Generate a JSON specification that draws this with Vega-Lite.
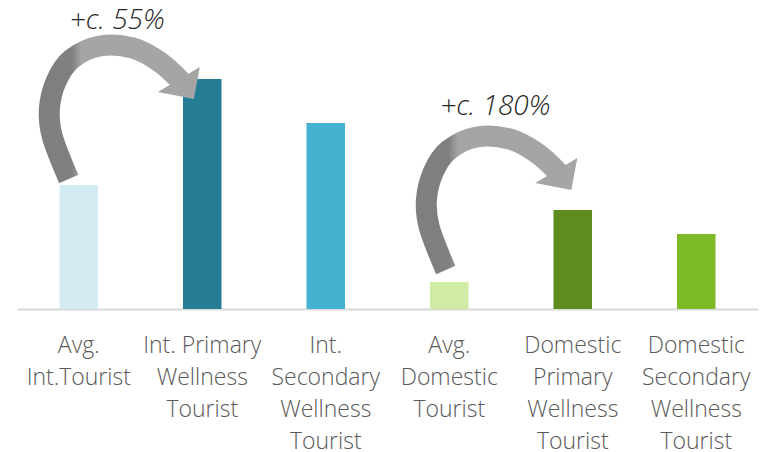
{
  "$schema": "https://vega.github.io/schema/vega-lite/v6.json",
  "width": 741,
  "height": 309,
  "autosize": {"type": "none"},
  "padding": {"left": 17, "top": 0, "right": 7, "bottom": 143},
  "background": "white",
  "config": {"view": {"stroke": null}},
  "datasets": {
    "bars": [
      {"cat": "Avg.\nInt.Tourist", "value": 124},
      {"cat": "Int. Primary\nWellness\nTourist", "value": 230},
      {"cat": "Int.\nSecondary\nWellness\nTourist", "value": 186},
      {"cat": "Avg.\nDomestic\nTourist", "value": 27},
      {"cat": "Domestic\nPrimary\nWellness\nTourist", "value": 99},
      {"cat": "Domestic\nSecondary\nWellness\nTourist", "value": 75}
    ],
    "arrows": [
      {"arrow": "intl", "i": 0, "u": 0.419, "v": 130},
      {"arrow": "intl", "i": 1, "u": 0.287, "v": 172},
      {"arrow": "intl", "i": 2, "u": 0.262, "v": 200},
      {"arrow": "intl", "i": 3, "u": 0.318, "v": 228},
      {"arrow": "intl", "i": 4, "u": 0.443, "v": 250},
      {"arrow": "intl", "i": 5, "u": 0.670, "v": 263},
      {"arrow": "intl", "i": 6, "u": 0.937, "v": 261},
      {"arrow": "intl", "i": 7, "u": 1.156, "v": 247},
      {"arrow": "intl", "i": 8, "u": 1.334, "v": 227},
      {"arrow": "dom", "i": 0, "u": 3.472, "v": 39},
      {"arrow": "dom", "i": 1, "u": 3.340, "v": 81},
      {"arrow": "dom", "i": 2, "u": 3.315, "v": 109},
      {"arrow": "dom", "i": 3, "u": 3.371, "v": 137},
      {"arrow": "dom", "i": 4, "u": 3.496, "v": 159},
      {"arrow": "dom", "i": 5, "u": 3.723, "v": 172},
      {"arrow": "dom", "i": 6, "u": 3.990, "v": 170},
      {"arrow": "dom", "i": 7, "u": 4.209, "v": 156},
      {"arrow": "dom", "i": 8, "u": 4.387, "v": 136}
    ],
    "heads": [
      {"arrow": "intl", "u": 1.310, "v": 229.5},
      {"arrow": "dom", "u": 4.367, "v": 138.5}
    ],
    "notes": [
      {"text": "+c. 55%", "u": 0.812, "v": 280},
      {"text": "+c. 180%", "u": 3.873, "v": 194}
    ]
  },
  "layer": [
    {
      "data": {"name": "bars"},
      "mark": {"type": "bar"},
      "encoding": {
        "x": {
          "field": "cat", "type": "nominal", "sort": null,
          "scale": {"paddingInner": 0.688, "paddingOuter": 0.344},
          "axis": {
            "title": null, "ticks": false, "labelAngle": 0,
            "domainColor": "#D9D9D9", "domainWidth": 2,
            "labelFont": "Open Sans", "labelFontSize": 23, "labelFontWeight": 300,
            "labelColor": "#595959", "labelLineHeight": 32, "labelPadding": 25,
            "labelLimit": 0,
            "labelExpr": "split(datum.label, '\\n')"
          }
        },
        "y": {"field": "value", "type": "quantitative", "scale": {"domain": [0, 309], "nice": false}, "axis": null},
        "color": {
          "field": "cat", "type": "nominal", "sort": null, "legend": null,
          "scale": {
            "domain": ["Avg.\nInt.Tourist", "Int. Primary\nWellness\nTourist", "Int.\nSecondary\nWellness\nTourist", "Avg.\nDomestic\nTourist", "Domestic\nPrimary\nWellness\nTourist", "Domestic\nSecondary\nWellness\nTourist"],
            "range": ["#D3ECF3", "#247D95", "#45B2D1", "#D0EBA3", "#5F8C1F", "#7EB928"]
          }
        }
      }
    },
    {
      "data": {"name": "arrows"},
      "mark": {
        "type": "line", "interpolate": "cardinal", "strokeWidth": 21, "strokeCap": "butt",
        "color": {
          "gradient": "linear", "x1": 0, "y1": 0.5, "x2": 1, "y2": 0.5,
          "stops": [
            {"offset": 0, "color": "#7F7F7F"},
            {"offset": 0.17, "color": "#7F7F7F"},
            {"offset": 0.24, "color": "#A5A5A5"},
            {"offset": 1, "color": "#A5A5A5"}
          ]
        }
      },
      "encoding": {
        "x": {"field": "u", "type": "quantitative", "scale": {"domain": [0, 6], "nice": false, "zero": false}, "axis": null},
        "y": {"field": "v", "type": "quantitative", "scale": {"domain": [0, 309], "nice": false}, "axis": null},
        "detail": {"field": "arrow"},
        "order": {"field": "i", "type": "quantitative"}
      }
    },
    {
      "data": {"name": "heads"},
      "mark": {
        "type": "point", "shape": "M0.84,-0.5L-0.84,0.5L0.6,0.78Z", "size": 2500,
        "filled": true, "color": "#A5A5A5", "opacity": 1, "strokeWidth": 0
      },
      "encoding": {
        "x": {"field": "u", "type": "quantitative", "scale": {"domain": [0, 6], "nice": false, "zero": false}, "axis": null},
        "y": {"field": "v", "type": "quantitative", "scale": {"domain": [0, 309], "nice": false}, "axis": null}
      }
    },
    {
      "data": {"name": "notes"},
      "mark": {
        "type": "text", "font": "Open Sans", "fontSize": 28, "fontStyle": "italic", "fontWeight": 300,
        "color": "#262626", "align": "center", "baseline": "alphabetic"
      },
      "encoding": {
        "x": {"field": "u", "type": "quantitative", "scale": {"domain": [0, 6], "nice": false, "zero": false}, "axis": null},
        "y": {"field": "v", "type": "quantitative", "scale": {"domain": [0, 309], "nice": false}, "axis": null},
        "text": {"field": "text"}
      }
    }
  ],
  "resolve": {"scale": {"x": "independent"}}
}
